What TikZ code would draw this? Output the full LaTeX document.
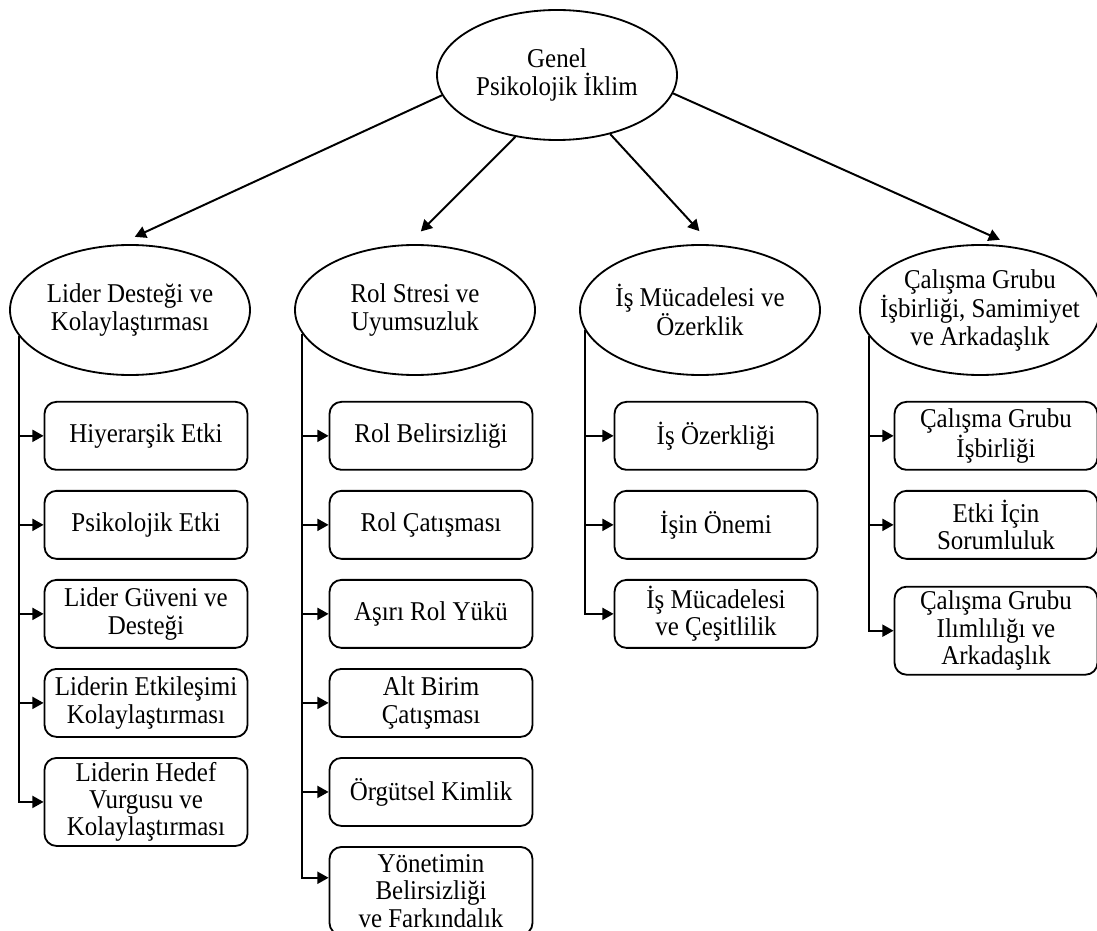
\documentclass[tikz,border=0pt]{standalone}
\usepackage{fontspec}
\setmainfont{Liberation Serif}[FakeStretch=0.92]
\usetikzlibrary{positioning, shapes.geometric, arrows.meta}
\tikzset{oval/.style={ellipse, draw, line width=1.3pt, minimum width=6cm, minimum height=3.25cm, inner xsep=-0.5cm, inner ysep=0pt, align=center}}
\tikzset{rbox/.style={draw, line width=1.3pt, rounded corners=0.3cm, minimum width=5.075cm, minimum height=1.7cm, inner xsep=2pt, inner ysep=0pt, align=center}}
\tikzset{rbox3/.style={rbox, minimum height=2.2cm}}
\tikzset{arr/.style={draw, line width=1.4pt, -{Triangle[length=2.8mm, width=3mm]}}}
\tikzset{arrt/.style={arr, shorten >=0.45cm}}

\begin{document}
\begin{tikzpicture}[font=\fontsize{19.3}{19.5}\selectfont]
	\useasboundingbox (0,0) rectangle (27.425,-23.275);
	\node[oval] (G) at (13.925,-1.875) {Genel\\Psikolojik İklim};
	\node[oval] (L) at (3.25,-7.75) {Lider Desteği ve\\Kolaylaştırması};
	\node[oval] (R) at (10.375,-7.75) {Rol Stresi ve\\Uyumsuzluk};
	\node[oval] (M) at (17.5,-7.75) {İş Mücadelesi ve\\Özerklik};
	\node[oval] (C) at (24.5,-7.75) {Çalışma Grubu\\İşbirliği, Samimiyet\\ve Arkadaşlık};

	\draw[arrt] (G.190) -- (L.100);
	\draw[arrt] (G.236) -- (R.96);
	\draw[arrt] (G.312) -- (M.80);
	\draw[arrt] (G.351) -- (C.60);

	\node[rbox, below=0.625cm of L, xshift=0.4cm] (L1) {Hiyerarşik Etki};
	\node[rbox, below=0.48cm of L1] (L2) {Psikolojik Etki};
	\node[rbox, below=0.48cm of L2] (L3) {Lider Güveni ve\\Desteği};
	\node[rbox, below=0.48cm of L3] (L4) {Liderin Etkileşimi\\Kolaylaştırması};
	\node[rbox3, below=0.48cm of L4] (L5) {Liderin Hedef\\Vurgusu ve\\Kolaylaştırması};

	\node[rbox, below=0.625cm of R, xshift=0.4cm] (R1) {Rol Belirsizliği};
	\node[rbox, below=0.48cm of R1] (R2) {Rol Çatışması};
	\node[rbox, below=0.48cm of R2] (R3) {Aşırı Rol Yükü};
	\node[rbox, below=0.48cm of R3] (R4) {Alt Birim\\Çatışması};
	\node[rbox, below=0.48cm of R4] (R5) {Örgütsel Kimlik};
	\node[rbox3, below=0.48cm of R5] (R6) {Yönetimin\\Belirsizliği\\ve Farkındalık};

	\node[rbox, below=0.625cm of M, xshift=0.4cm] (M1) {İş Özerkliği};
	\node[rbox, below=0.48cm of M1] (M2) {İşin Önemi};
	\node[rbox, below=0.48cm of M2] (M3) {İş Mücadelesi\\ve Çeşitlilik};

	\node[rbox, below=0.625cm of C, xshift=0.4cm] (C1) {Çalışma Grubu\\İşbirliği};
	\node[rbox, below=0.48cm of C1] (C2) {Etki İçin\\Sorumluluk};
	\node[rbox3, below=0.65cm of C2] (C3) {Çalışma Grubu\\Ilımlılığı ve\\Arkadaşlık};

	\draw[arr] (L.193) |- (L1.west);
	\draw[arr] (L.193) |- (L2.west);
	\draw[arr] (L.193) |- (L3.west);
	\draw[arr] (L.193) |- (L4.west);
	\draw[arr] (L.193) |- (L5.west);

	\draw[arr] (R.192) |- (R1.west);
	\draw[arr] (R.192) |- (R2.west);
	\draw[arr] (R.192) |- (R3.west);
	\draw[arr] (R.192) |- (R4.west);
	\draw[arr] (R.192) |- (R5.west);
	\draw[arr] (R.192) |- ([yshift=0.33cm]R6.west);

	\draw[arr] (M.190) |- (M1.west);
	\draw[arr] (M.190) |- (M2.west);
	\draw[arr] (M.190) |- (M3.west);

	\draw[arr] (C.193) |- (C1.west);
	\draw[arr] (C.193) |- (C2.west);
	\draw[arr] (C.193) |- (C3.west);
\end{tikzpicture}
\end{document}
